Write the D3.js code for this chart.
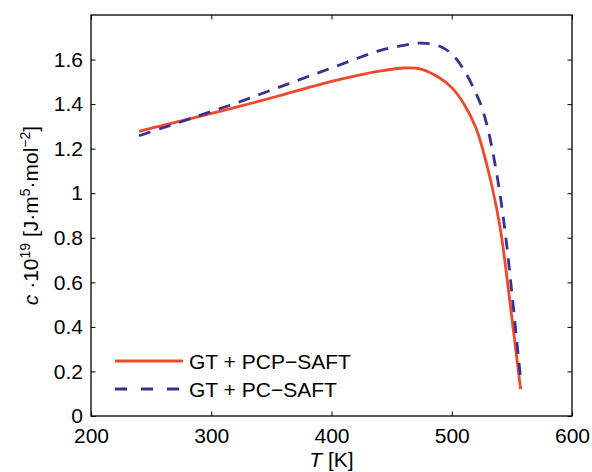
<!DOCTYPE html>
<html>
<head>
<meta charset="utf-8">
<script src="https://cdn.jsdelivr.net/npm/d3@7"></script>
<style>
  html, body { margin: 0; padding: 0; background: #fff; }
  text { font-family: "Liberation Sans", Arial, Helvetica, sans-serif; fill: #000; }
</style>
</head>
<body>
<svg id="chart" width="592" height="472"></svg>
<script>
// ---- data ----
const seriesNames = ["GT + PCP\u2212SAFT", "GT + PC\u2212SAFT"];
const tempPCP = [240, 260, 280, 300, 320, 340, 360, 380, 400, 420, 440, 460, 475, 490, 500, 510, 520, 530, 540, 545, 550, 555, 557.3];
const valPCP  = [1.278, 1.305, 1.331, 1.358, 1.385, 1.413, 1.443, 1.473, 1.502, 1.527, 1.548, 1.562, 1.556, 1.517, 1.474, 1.402, 1.295, 1.11, 0.853, 0.66, 0.44, 0.22, 0.12];
const tempPC  = [240, 260, 280, 300, 320, 340, 360, 380, 400, 420, 440, 460, 475, 490, 500, 510, 520, 525, 530, 535, 540, 545, 550, 555, 557.3];
const valPC   = [1.258, 1.294, 1.33, 1.367, 1.403, 1.443, 1.483, 1.523, 1.562, 1.603, 1.64, 1.664, 1.674, 1.66, 1.625, 1.555, 1.45, 1.385, 1.29, 1.16, 1.0, 0.80, 0.553, 0.287, 0.165];
const xTicks = [200, 300, 400, 500, 600];
const xTickLabels = ["200", "300", "400", "500", "600"];
const yTicks = [0, 0.2, 0.4, 0.6, 0.8, 1, 1.2, 1.4, 1.6];
const yTickLabels = ["0", "0.2", "0.4", "0.6", "0.8", "1", "1.2", "1.4", "1.6"];
const colors = ["#f2482a", "#3a2f94"];

// ---- layout ----
const svg = d3.select("#chart");
const L = 91, R = 572, T = 15, B = 416;
const x = d3.scaleLinear().domain([200, 600]).range([L, R]);
const y = d3.scaleLinear().domain([0, 1.8]).range([B, T]);
const fs = 21;

svg.append("defs").append("clipPath").attr("id", "clip")
  .append("rect").attr("x", L).attr("y", T).attr("width", R - L).attr("height", B - T);

// curves
const line = d3.line().x(d => x(d[0])).y(d => y(d[1])).curve(d3.curveCatmullRom.alpha(0.5));
const dPCP = tempPCP.map((t, i) => [t, valPCP[i]]);
const dPC = tempPC.map((t, i) => [t, valPC[i]]);
const g = svg.append("g").attr("clip-path", "url(#clip)");
g.append("path").attr("d", line(dPCP)).attr("fill", "none")
  .attr("stroke", colors[0]).attr("stroke-width", 2.8);
g.append("path").attr("d", line(dPC)).attr("fill", "none")
  .attr("stroke", colors[1]).attr("stroke-width", 2.8).attr("stroke-dasharray", "12,9");

// axes (inward ticks, mirrored)
const tl = 4.5;
const axB = d3.axisBottom(x).tickValues(xTicks).tickSize(-tl).tickPadding(12)
  .tickFormat((d, i) => xTickLabels[i]);
const axT = d3.axisTop(x).tickValues(xTicks).tickSize(-tl).tickFormat("");
const axL = d3.axisLeft(y).tickValues(yTicks).tickSize(-tl).tickPadding(8)
  .tickFormat((d, i) => yTickLabels[i]);
const axR = d3.axisRight(y).tickValues(yTicks).tickSize(-tl).tickFormat("");

function style(sel) {
  sel.select(".domain").remove();
  sel.selectAll(".tick line").attr("stroke", "#000").attr("stroke-width", 1);
  sel.selectAll(".tick text").style("font-size", fs + "px")
    .style("font-family", "'Liberation Sans', Arial, sans-serif").attr("fill", "#000");
}
svg.append("g").attr("transform", `translate(0,${B})`).call(axB).call(style);
svg.append("g").attr("transform", `translate(0,${T})`).call(axT).call(style);
svg.append("g").attr("transform", `translate(${L},0)`).call(axL).call(style);
svg.append("g").attr("transform", `translate(${R},0)`).call(axR).call(style);

// box
svg.append("rect").attr("x", L).attr("y", T).attr("width", R - L).attr("height", B - T)
  .attr("fill", "none").attr("stroke", "#000").attr("stroke-width", 1.3);

// x label
const xl = svg.append("text").attr("x", (L + R) / 2).attr("y", 467)
  .attr("text-anchor", "middle").style("font-size", fs + "px");
xl.append("tspan").style("font-style", "italic").text("T");
xl.append("tspan").text(" [K]");

// y label
const yl = svg.append("text")
  .attr("transform", `translate(38,${(T + B) / 2}) rotate(-90)`)
  .attr("text-anchor", "middle").style("font-size", fs + "px");
yl.append("tspan").style("font-style", "italic").text("c");
yl.append("tspan").text(" \u00b710");
yl.append("tspan").attr("dy", -8).style("font-size", "14px").text("19");
yl.append("tspan").attr("dy", 8).text(" [J\u00b7m");
yl.append("tspan").attr("dy", -8).style("font-size", "14px").text("5");
yl.append("tspan").attr("dy", 8).text("\u00b7mol");
yl.append("tspan").attr("dy", -8).style("font-size", "14px").text("\u22122");
yl.append("tspan").attr("dy", 8).text("]");

// legend
const legY = [361, 389];
const leg = svg.append("g");
seriesNames.forEach((name, i) => {
  leg.append("line").attr("x1", 115).attr("x2", 183).attr("y1", legY[i]).attr("y2", legY[i])
    .attr("stroke", colors[i]).attr("stroke-width", 2.8)
    .attr("stroke-dasharray", i === 1 ? "12,14" : null);
  leg.append("text").attr("x", 189).attr("y", legY[i] + 7.5)
    .style("font-size", "21px").text(name);
});
</script>
</body>
</html>
